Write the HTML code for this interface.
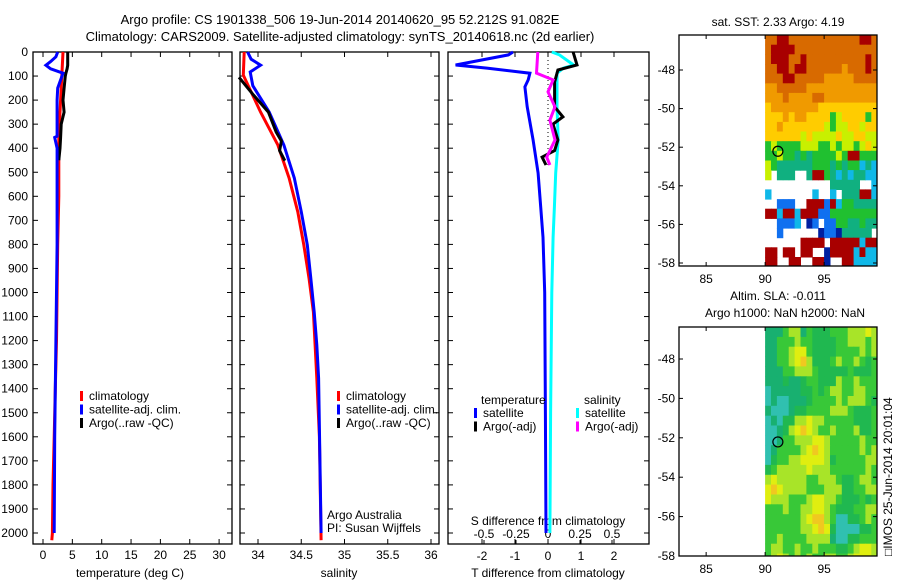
<!DOCTYPE html>
<html><head><meta charset="utf-8"><style>
body{margin:0;background:#fff}
svg{display:block;font-family:"Liberation Sans",sans-serif;font-size:12px}
</style></head><body>
<svg id="c" width="900" height="580" xmlns="http://www.w3.org/2000/svg"></svg>
<script>
// ===== data =====
const tDepth=[0,20,40,55,70,88,100,150,200,250,300,355,400,450];
const tArgo=[4.2,4.2,4.2,4.2,4.1,3.9,3.8,3.6,3.4,3.6,3.1,3.0,2.9,2.7];
const tClimDepth=[0,100,250,350,600,800,1000,1200,1400,1600,1800,2000,2030];
const tClim=[3.4,3.2,2.9,2.7,2.7,2.5,2.4,2.3,2.1,1.9,1.7,1.6,1.5];
const tSatDepth=[0,20,40,55,70,88,150,200,350,355,400,800,1200,1600,2000];
const tSat=[2.5,2.2,1.3,0.5,1.3,3.4,2.5,2.4,2.4,2.0,2.4,2.4,2.2,2.0,1.9];
const sClimDepth=[0,96,250,387,524,665,802,940,1081,1218,1356,1600,2030];
const sClim=[33.84,33.83,34.03,34.23,34.36,34.46,34.53,34.59,34.64,34.66,34.68,34.71,34.73];
const sSatDepth=[0,30,55,83,140,250,387,524,665,802,940,1081,1218,1356,2000];
const sSat=[33.88,33.92,34.03,33.91,33.94,34.13,34.30,34.42,34.50,34.57,34.61,34.65,34.68,34.70,34.73];
const sArgoDepth=[105,180,250,333,370,410,452];
const sArgo=[33.78,33.95,34.12,34.21,34.27,34.25,34.31];
const dDepthT=[0,12,54,67,88,116,145,228,366,503,644,770,1000,1500,2000];
const dTSat=[-1.06,-1.2,-2.8,-1.85,-0.55,-0.6,-0.7,-0.63,-0.45,-0.3,-0.22,-0.15,-0.1,-0.08,-0.06];
const dSSat=[0.03,0.09,0.2,0.12,0.07,0.07,0.07,0.07,0.08,0.06,0.05,0.04,0.03,0.02,0.015];
const dArgoDepth=[0,54,75,125,228,270,300,366,410,437,470];
const dTArgo=[0.76,0.88,0.3,0.2,0.2,0.45,0.15,0.3,0.2,-0.18,-0.06];
const dSArgoDepth=[0,88,116,166,228,283,366,410,437,470];
const dSArgo=[-0.08,-0.09,0.04,0,0.055,0.015,0.055,0.015,-0.01,0.015];
const depthTicks=[0,100,200,300,400,500,600,700,800,900,1000,1100,1200,1300,1400,1500,1600,1700,1800,1900,2000];
const tTicks=[0,5,10,15,20,25,30];
const sTicks=[34,34.5,35,35.5,36];
const dTTicks=[-2,-1,0,1,2];
const dSTicks=[-0.5,-0.25,0,0.25,0.5];
const dSTickLabels=['-0.5','-0.25','0','0.25','0.5'];
const lonTicks=[85,90,95];
const latTicks=[-48,-50,-52,-54,-56,-58];
const argoLon=91.08, argoLat=-52.21;
const sstRows=["ooRRooooooooooooRRo","oRRRRoooooooooooooo","oRRRooRooooooooooRo","ooRRoRRooooooOoooRo","oooRRoooooOOOOOoooo","OOoooooOOOOOOOOOOOO","OOOoOOOOooOOOOOOOOO","yOOOOOOOOyyyyyyyyyy","yyyOyOOyyyyglyyyygy","yyOyyyyyyylgllyylyy","yyyyyylyllllyllyyll","glgggglllgglgllglyl","gglggtgtgggglgRRggg","lgttttttgggtgtggctc","l.ttt..tRRgtctcttcc","...........ttttt..c","c.......c..c.tttRRc","..bbb..RRRbRcggtttt","RRcRRcRRRbbgggggggg","..bbbc.nb.bbggttgtt","..b......nbbnttttt.","......RRRR.RRRRRcRR","RR.RR.RR..nRRRRcRcc","RR..RR..RRn..RRcccc"];
const slaRows=["tttglltgGGGggglllyl","ttggglggGGGGgglllgl","ttgglyygGGGGgggglgl","ttgglyolGGGglgglgGg","tttgglllgGGGGGgGGGg","tttGttGggGGGlgglggg","ctttttGGgGgllggllgg","ctcctttGgggglglllgG","tccctGGgggglllgGGGg","ctcGGllyllgggggGGGg","cctGlyoylgglggglGGg","cctgglllyylggggglgg","ctgggglyoylggggglgl","cGggllyyyylGgggggll","Gglllllylllgggggglg","lylllllgglllgGGgllg","yoyllllggglllGGggll","ylllggglyyllgGGGgGg","ggglggllyylgGGGggll","gggggglyoolgccGGglg","ggggggllyoyGccccGGg","gglgggglllltccGGggg","gllgglgglgggGGglyyl","glylglglggllgglyyyl"];
const sstCol={R:'#a80000',o:'#d86a00',O:'#f09a00',y:'#ffcc00',l:'#c8f000',g:'#20c030',t:'#10b080',c:'#10b8e8',b:'#1070f0',n:'#0020a0'};
const slaCol={t:'#18b070',c:'#30c0b0',g:'#38c838',G:'#20b850',l:'#a8e428',y:'#e0ee10',o:'#f0c820'};
// ===== drawing =====
const NS='http://www.w3.org/2000/svg';const svg=document.getElementById('c');
function el(t,a,p){const e=document.createElementNS(NS,t);for(const k in a)e.setAttribute(k,a[k]);(p||svg).appendChild(e);return e;}
function txt(x,y,s,anchor,p){const e=el('text',{x:x,y:y,'text-anchor':anchor||'start'},p);e.textContent=s;return e;}
const yD=d=>52+0.2405*d;
const P1={x0:33,x1:232,sx:v=>43+5.87*v},P2={x0:240,x1:439,sx:v=>258+86.5*(v-34)},P3={x0:448,x1:649,sx:v=>548+33*v,ss:v=>548+128*v};
const yTop=52,yBot=544;
function frame(P,name){
  const g=el('g',{});
  
  
  el('rect',{x:P.x0,y:yTop,width:P.x1-P.x0,height:yBot-yTop,fill:'none',stroke:'#000','stroke-width':1.3},g);
  depthTicks.forEach(d=>{const y=yD(d);el('line',{x1:P.x0,x2:P.x0+5,y1:y,y2:y,stroke:'#000'},g);el('line',{x1:P.x1,x2:P.x1-5,y1:y,y2:y,stroke:'#000'},g);});
  return g;
}
function line(xs,ds,f,color,w,name){
  const p=el('polyline',{points:xs.map((v,i)=>f(v).toFixed(1)+','+yD(ds[i]).toFixed(1)).join(' '),fill:'none',stroke:color,'stroke-width':w||3});
  
  
}
function xticks(P,ticks,f,labels,ly){ticks.forEach((t,i)=>{const x=f(t);el('line',{x1:x,x2:x,y1:yTop,y2:yTop+5,stroke:'#000'});el('line',{x1:x,x2:x,y1:yBot,y2:yBot-5,stroke:'#000'});txt(x,ly,labels?labels[i]:String(t),'middle');});}
// titles
let t=txt(340,24,'Argo profile: CS 1901338_506 19-Jun-2014 20140620_95 52.212S 91.082E','middle');t.setAttribute('font-size','13');
t=txt(340,41,'Climatology: CARS2009. Satellite-adjusted climatology: synTS_20140618.nc (2d earlier)','middle');t.setAttribute('font-size','13');
// panel 1
frame(P1,'temperature-panel');
depthTicks.forEach(d=>txt(28,yD(d)+4,String(d),'end'));
xticks(P1,tTicks,P1.sx,null,559);
txt(130,577,'temperature (deg C)','middle');
line(tClim,tClimDepth,P1.sx,'#ff0000',3,'temp-climatology-line');
line(tArgo,tDepth,P1.sx,'#000',3,'temp-argo-line');
line(tSat,tSatDepth,P1.sx,'#0000ff',3,'temp-satellite-line');
function legend(x,items,name){const g=el('g',{});
 items.forEach((it,i)=>{const y=400+i*13.5;el('rect',{x:x,y:y-9,width:3,height:10,fill:it[1]},g);txt(x+9,y,it[0],'start',g);});}
legend(80,[['climatology','#f00'],['satellite-adj. clim.','#00f'],['Argo(..raw -QC)','#000']],'temperature-legend');
// panel 2
frame(P2,'salinity-panel');
xticks(P2,sTicks,P2.sx,null,559);
txt(339,577,'salinity','middle');
line(sClim,sClimDepth,P2.sx,'#ff0000',3,'sal-climatology-line');
line(sSat,sSatDepth,P2.sx,'#0000ff',3,'sal-satellite-line');
line(sArgo,sArgoDepth,P2.sx,'#000',3,'sal-argo-line');
legend(337,[['climatology','#f00'],['satellite-adj. clim.','#00f'],['Argo(..raw -QC)','#000']],'salinity-legend');
txt(327,519,'Argo Australia');txt(327,532,'PI: Susan Wijffels');
// panel 3
frame(P3,'difference-panel');
el('line',{x1:548,x2:548,y1:yD(0),y2:yD(470),stroke:'#000','stroke-dasharray':'1,3'});
dTTicks.forEach(v=>{const x=P3.sx(v);el('line',{x1:x,x2:x,y1:yTop,y2:yTop+5,stroke:'#000'});el('line',{x1:x,x2:x,y1:yBot,y2:yBot-5,stroke:'#000'});txt(x,560,String(v),'middle');});
dSTicks.forEach((v,i)=>{const x=P3.ss(v);el('line',{x1:x,x2:x,y1:yBot,y2:yBot-4,stroke:'#000'});txt(x,538,dSTickLabels[i],'middle');});
txt(548,525,'S difference from climatology','middle');
txt(548,577,'T difference from climatology','middle');
line(dTSat,dDepthT,P3.sx,'#0000ff',3,'tdiff-satellite-line');
line(dSSat,dDepthT,P3.ss,'#00ffff',3,'sdiff-satellite-line');
line(dTArgo,dArgoDepth,P3.sx,'#000',3,'tdiff-argo-line');
line(dSArgo,dSArgoDepth,P3.ss,'#ff00ff',3,'sdiff-argo-line');
txt(481,404,'temperature');txt(584,404,'salinity');
[[474,'#00f','satellite'],[474,'#000','Argo(-adj)'],[576,'#0ff','satellite'],[576,'#f0f','Argo(-adj)']].forEach((it,i)=>{const y=417+(i%2)*13.5;el('rect',{x:it[0],y:y-9,width:3,height:10,fill:it[1]});txt(it[0]+9,y,it[2]);});
// maps
function map(M,rows,cols,name){
 const g=el('g',{});
 const sx=lon=>M.x0+(lon-82.7)*11.8, sy=lat=>M.yRef+(-48-lat)*M.k;
 const latTop=-48+(M.yRef-M.y0)/M.k;
 const nc=rows[0].length;
 rows.forEach((r,i)=>{for(let j=0;j<nc;j++){const ch=r[j];if(!cols[ch])continue;
   const lat=latTop-i*0.5, lon=90+j*0.5;
   const x=sx(lon),y=sy(lat);
   const c=el('rect',{x:x.toFixed(1),y:y.toFixed(1),width:Math.min(6.4,M.x1-x).toFixed(1),height:Math.min(0.5*M.k+0.5,M.y1-y).toFixed(1),fill:cols[ch]},g);
   
   }});
 el('rect',{x:M.x0,y:M.y0,width:M.x1-M.x0,height:M.y1-M.y0,fill:'none',stroke:'#000','stroke-width':1.3},g);
 latTicks.forEach(l=>{const y=sy(l);el('line',{x1:M.x0,x2:M.x0+4,y1:y,y2:y,stroke:'#000'},g);el('line',{x1:M.x1,x2:M.x1-4,y1:y,y2:y,stroke:'#000'},g);txt(M.x0-4,y+4,String(l),'end',g);});
 lonTicks.forEach(l=>{const x=sx(l);el('line',{x1:x,x2:x,y1:M.y1,y2:M.y1-4,stroke:'#000'},g);el('line',{x1:x,x2:x,y1:M.y0,y2:M.y0+4,stroke:'#000'},g);txt(x,M.y1+17,String(l),'middle',g);});
 const c=el('circle',{cx:sx(argoLon),cy:sy(argoLat),r:5,fill:'none',stroke:'#000','stroke-width':1.2},g);
 
 
}
map({x0:679,x1:877,y0:35,y1:266,yRef:70,k:19.3},sstRows,sstCol,'sst-map');
map({x0:679,x1:877,y0:327,y1:556,yRef:359,k:19.7},slaRows,slaCol,'sla-map');
txt(778,26,'sat. SST: 2.33 Argo: 4.19','middle');
txt(778,300,'Altim. SLA: -0.011','middle');
txt(785,317,'Argo h1000: NaN h2000: NaN','middle');
t=txt(0,0,'\u25A1IMOS 25-Jun-2014 20:01:04','start');t.setAttribute('transform','translate(892,556) rotate(-90)');
</script>
</body></html>
